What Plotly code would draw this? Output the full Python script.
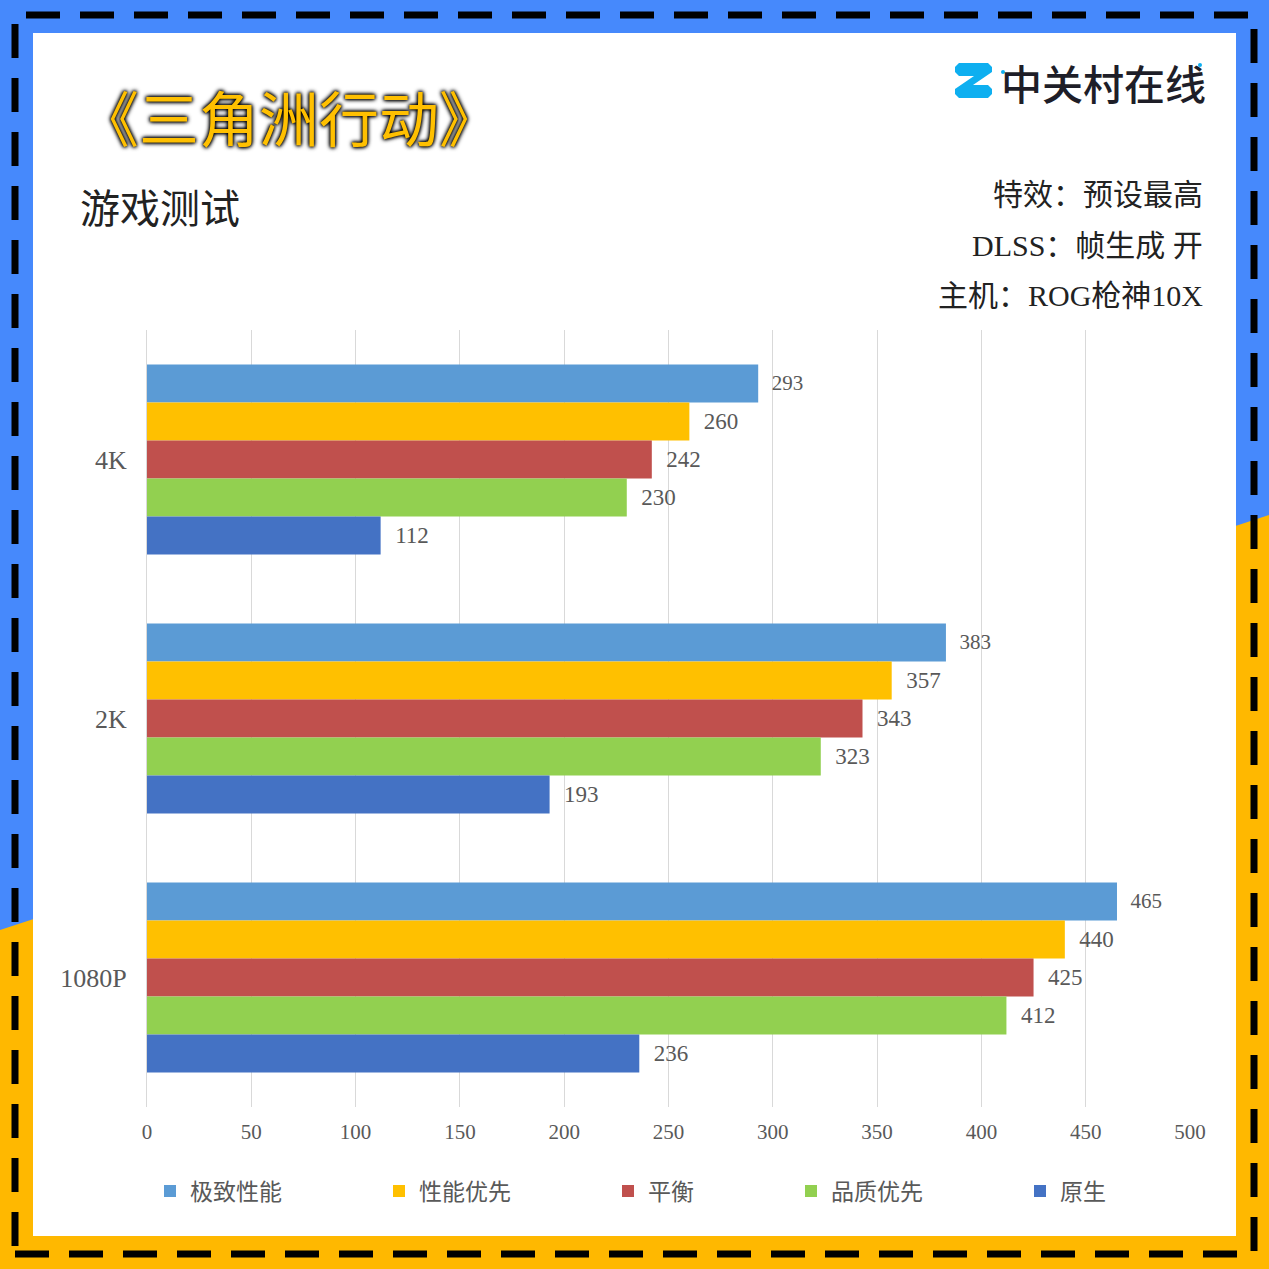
import plotly.graph_objects as go

# ---------------- data ----------------
categories = ["4K", "2K", "1080P"]
series_names = ["极致性能", "性能优先", "平衡", "品质优先", "原生"]
series_colors = ["#5B9BD5", "#FFC000", "#C0504D", "#92D050", "#4472C4"]
values = {
    "极致性能": [293, 383, 465],
    "性能优先": [260, 357, 440],
    "平衡": [242, 343, 425],
    "品质优先": [230, 323, 412],
    "原生": [112, 193, 236],
}
x_ticks = [0, 50, 100, 150, 200, 250, 300, 350, 400, 450, 500]
title_text = "《三角洲行动》"
subtitle_text = "游戏测试"
info_lines = ["特效：预设最高", "DLSS：帧生成 开", "主机：ROG枪神10X"]
logo_text = "中关村在线"

# ---------------- layout geometry ----------------
W = H = 1269
L, R, T, B = 147, 79, 330, 162
PW = W - L - R
PH = H - T - B


def fx(x):
    return (x - L) / PW


def fy(y):
    return (H - B - y) / PH


def path(points, close=True):
    s = "M " + " L ".join(f"{fx(x):.5f},{fy(y):.5f}" for x, y in points)
    return s + (" Z" if close else "")


SERIF = "Liberation Serif, Noto Sans CJK SC"
CJK = "Noto Sans CJK SC"

fig = go.Figure()
n = len(series_names)
for i, name in enumerate(series_names):
    pad = "\u3000" * 4 if i < n - 1 else ""
    fig.add_trace(go.Bar(
        name=name + pad,
        y=categories,
        x=values[name],
        orientation="h",
        marker=dict(color=series_colors[i], line=dict(width=0)),
        text=values[name],
        texttemplate="\u2002%{x}",
        textposition="outside",
        constraintext="none",
        cliponaxis=False,
        textfont=dict(family=SERIF, size=21 if i == 0 else 23, color="#595959"),
    ))

shapes = []
# orange lower-right background
shapes.append(dict(type="path", xref="paper", yref="paper", layer="below",
                   path=path([(0, 930), (W, 515), (W, H), (0, H)]),
                   fillcolor="#FFB800", line=dict(width=0)))
# white panel
shapes.append(dict(type="rect", xref="paper", yref="paper", layer="below",
                   x0=fx(33), x1=fx(1236), y0=fy(1236), y1=fy(33),
                   fillcolor="white", line=dict(width=0)))
# dashed border
shapes.append(dict(type="rect", xref="paper", yref="paper", layer="above",
                   x0=fx(15), x1=fx(1254), y0=fy(1254), y1=fy(15),
                   fillcolor="rgba(0,0,0,0)",
                   line=dict(color="black", width=7, dash="34px,20px")))
# logo icon (Z shape)
z_pts = [(959, 63), (988, 63), (992, 67), (992, 72), (973, 85), (988, 85),
         (992, 89), (992, 94), (988, 98), (959, 98), (955, 94), (955, 89),
         (974, 76), (959, 76), (955, 72), (955, 67)]
shapes.append(dict(type="path", xref="paper", yref="paper", layer="above",
                   path=path(z_pts), fillcolor="#0EAFF0", line=dict(width=0)))
for cx, cy in [(1003, 72), (1200, 65)]:
    shapes.append(dict(type="circle", xref="paper", yref="paper", layer="above",
                       x0=fx(cx - 2), x1=fx(cx + 2), y0=fy(cy + 2), y1=fy(cy - 2),
                       fillcolor="#0EAFF0", line=dict(width=0)))

annotations = []
annotations.append(dict(text=title_text, xref="paper", yref="paper",
                        x=fx(289), y=fy(115), xanchor="center", yanchor="middle",
                        showarrow=False,
                        font=dict(family=CJK, size=60, color="#FFC000",
                                  shadow="0 0 3px #000, 0 0 4px #000, 0 0 5px #000")))
annotations.append(dict(text=subtitle_text, xref="paper", yref="paper",
                        x=fx(78), y=fy(206), xanchor="left", yanchor="middle",
                        showarrow=False,
                        font=dict(family=CJK, size=40, color="#222222")))
annotations.append(dict(text=logo_text, xref="paper", yref="paper",
                        x=fx(1208), y=fy(82), xanchor="right", yanchor="middle",
                        showarrow=False,
                        font=dict(family=CJK, size=41, color="#1E1E28", weight=500)))
for txt, yy in zip(info_lines, [195, 245, 296]):
    annotations.append(dict(text=txt, xref="paper", yref="paper",
                            x=fx(1205), y=fy(yy), xanchor="right", yanchor="middle",
                            showarrow=False,
                            font=dict(family=SERIF, size=30, color="#222222")))

fig.update_layout(
    width=W, height=H,
    margin=dict(l=L, r=R, t=T, b=B, pad=0),
    paper_bgcolor="#4689FC",
    plot_bgcolor="rgba(0,0,0,0)",
    barmode="group",
    bargap=0.266,
    bargroupgap=0,
    shapes=shapes,
    annotations=annotations,
    showlegend=True,
    legend=dict(orientation="h", x=fx(150), y=fy(1191), xanchor="left",
                yanchor="middle", font=dict(family=CJK, size=23, color="#595959"),
                bgcolor="rgba(0,0,0,0)", traceorder="normal"),
    xaxis=dict(range=[0, 500], tickvals=x_ticks, showgrid=True,
               gridcolor="#D9D9D9", gridwidth=1, zeroline=False, showline=False,
               ticks="", ticklabelstandoff=10, automargin=False,
               tickfont=dict(family=SERIF, size=21, color="#595959")),
    yaxis=dict(categoryorder="array", categoryarray=categories,
               autorange="reversed", showgrid=False, zeroline=False,
               showline=True, linecolor="#D9D9D9", linewidth=1, ticks="",
               ticklabelstandoff=14, automargin=False,
               tickfont=dict(family=SERIF, size=26, color="#595959")),
)

fig.write_html("out.html",
               config={"displayModeBar": False},
               post_script="document.body.style.margin='0px';")
